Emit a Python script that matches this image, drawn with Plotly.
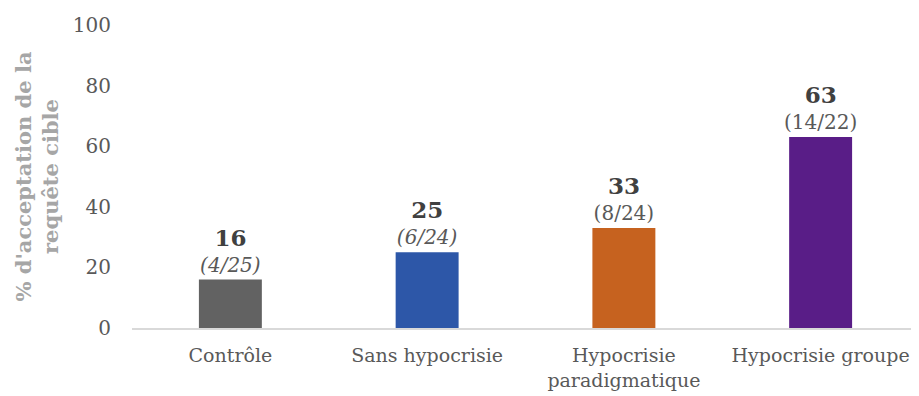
import plotly.graph_objects as go

categories = ["Contrôle", "Sans hypocrisie", "Hypocrisie<br>paradigmatique", "Hypocrisie groupe"]
values = [16, 25, 33, 63]
fractions = ["(4/25)", "(6/24)", "(8/24)", "(14/22)"]
italic_flags = [True, True, False, False]
colors = ["#626262", "#2d57a8", "#c6621f", "#591d87"]
y_ticks = [0, 20, 40, 60, 80, 100]

FONT = "DejaVu Serif"

labels = []
for v, f, it in zip(values, fractions, italic_flags):
    frac = f"<i>{f}</i>" if it else f
    labels.append(f"<b><span style='font-size:23px;color:#404040'>{v}</span></b><br><span style='color:#595959'>{frac}</span>")

fig = go.Figure(go.Bar(
    x=categories, y=values,
    marker=dict(color=colors, line=dict(width=0)),
    text=labels, textposition="outside", cliponaxis=False,
    constraintext="none",
    textfont=dict(family=FONT, size=20, color="#595959"),
    width=0.32,
))

fig.update_layout(
    width=911, height=388,
    margin=dict(l=124, r=0, t=17, b=68, autoexpand=False),
    paper_bgcolor="white", plot_bgcolor="white",
    font=dict(family=FONT, color="#595959", size=20),
    showlegend=False,
    xaxis=dict(showline=True, linecolor="#d9d9d9", linewidth=2, ticks="",
               ticklabelstandoff=9,
               tickfont=dict(size=19, color="#595959")),
    yaxis=dict(range=[0, 100], tickvals=y_ticks, showgrid=False, zeroline=False,
               showline=False, ticks="", ticklabelstandoff=20,
               tickfont=dict(size=20, color="#595959"),
               title=dict(text="<b>% d'acceptation de la<br>requête cible</b>",
                          font=dict(size=21, color="#a6a6a6", family=FONT),
                          standoff=8)),
)

fig.write_html("out.html")
